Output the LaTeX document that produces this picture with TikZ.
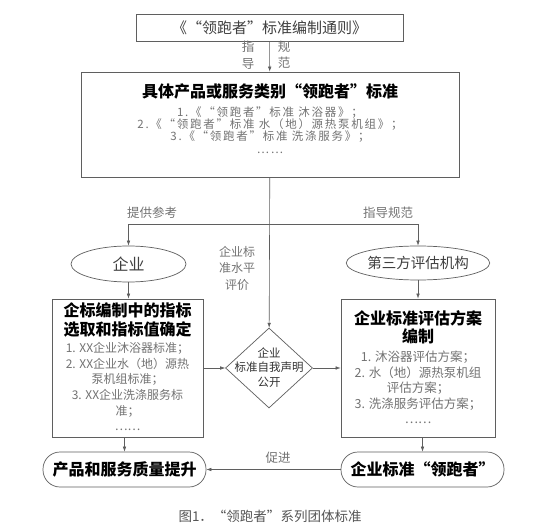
\documentclass[tikz,border=0pt]{standalone}
\usepackage{xcolor}
\usepackage{fontspec}
\setmainfont{Noto Sans CJK SC}
\usepackage{tikz}
\usetikzlibrary{positioning,arrows.meta,shapes.geometric}
\definecolor{linegray}{RGB}{95,95,95}
\definecolor{txtgray}{RGB}{115,115,115}
\definecolor{capgray}{RGB}{85,85,85}
\tikzset{
  box/.style={draw=linegray, line width=0.8pt, rectangle, inner sep=0pt},
  oval/.style={draw=linegray, line width=0.7pt, ellipse, inner sep=0pt},
  pill/.style={draw=linegray, line width=0.7pt, rectangle, rounded corners=17pt,
    inner sep=0pt, minimum width=163pt, minimum height=35pt,
    font=\fontsize{16}{16}\selectfont\bfseries},
  arr/.style={draw=linegray, line width=0.6pt, -{Latex[length=5pt,width=3.6pt]}},
  head/.style={font=\fontsize{16}{18.6}\selectfont\bfseries, align=center, inner sep=0pt},
  items/.style={text=txtgray, align=center, inner sep=0pt},
  note/.style={text=txtgray, font=\fontsize{12.5}{16.5}\selectfont, align=center, inner sep=0pt}
}

\begin{document}
\begin{tikzpicture}[x=1pt, y=-1pt]
  \useasboundingbox[fill=white] (0,0) rectangle (548,526);

  % General rule on top
  \node[box, minimum width=267pt, minimum height=27pt, text=black!75,
        font=\fontsize{15}{15}\selectfont] (tongze) at (269.5,27.5) {《“领跑者”标准编制通则》};

  % Category standards
  \node[box, minimum width=378pt, minimum height=105pt] (lei) at (270,124.5) {};
  \node[head] (leihead) at (270,91) {具体产品或服务类别“领跑者”标准};
  \node[items, font=\fontsize{11.5}{12.4}\selectfont\addfontfeature{LetterSpace=15}] (leilist) at (270,130)
    {1.《“领跑者”标准 沐浴器》；\\
     2.《“领跑者”标准 水（地）源热泵机组》；\\
     3.《“领跑者”标准 洗涤服务》；\\
     ……};
  \draw[arr] (tongze) -- (lei);
  \node[note] at (248,55) {指\\导};
  \node[note] at (284,55) {规\\范};

  % Enterprise and third party
  \node[oval, minimum width=115pt, minimum height=36pt, text=black!75,
        font=\fontsize{16}{16}\selectfont] (qiye) at (128.5,264) {企业};
  \node[oval, minimum width=131pt, minimum height=34pt, text=black!75,
        font=\fontsize{14.5}{14.5}\selectfont] (sanfang) at (418,263) {第三方评估机构};
  \coordinate (fork) at (270,224);
  \draw[arr] (fork) -| (qiye);
  \draw[arr] (fork) -| (sanfang);
  \node[note] at (152,213) {提供参考};
  \node[note] at (388,213) {指导规范};
  \node[note, font=\fontsize{12}{16.5}\selectfont] at (237,268) {企业标\\准水平\\评价};

  % Enterprise standard box
  \node[box, minimum width=151pt, minimum height=138pt] (lbox) at (127.5,368) {};
  \node[head] at (127.5,320) {企标编制中的指标\\选取和指标值确定};
  \node[items, font=\fontsize{12}{15.7}\selectfont] at (127.5,386.7)
    {1. XX企业沐浴器标准；\\
     2. XX企业水（地）源热\\
     泵机组标准；\\
     3. XX企业洗涤服务标\\
     准；\\
     ……};
  \draw[arr] (qiye) -- (qiye |- lbox.north);

  % Evaluation scheme box
  \node[box, minimum width=154pt, minimum height=138pt] (rbox) at (418,368) {};
  \node[head, font=\fontsize{16}{18.4}\selectfont\bfseries] at (418,327.5) {企业标准评估方案\\编制};
  \node[items, font=\fontsize{12.5}{15.4}\selectfont] at (418,387.5)
    {1. 沐浴器评估方案；\\
     2. 水（地）源热泵机组\\
     评估方案；\\
     3. 洗涤服务评估方案；\\
     ……};
  \draw[arr] (sanfang) -- (sanfang |- rbox.north);

  % Self declaration
  \node[diamond, draw=linegray, line width=0.7pt, inner sep=0pt,
        minimum width=87pt, minimum height=80pt] (decl) at (269,368) {};
  \node[align=center, inner sep=0pt, text=black!80,
        font=\fontsize{11.5}{14.5}\selectfont] at (269,367.5) {企业\\标准自我声明\\公开};
  \draw[arr] (lei) -- (decl);
  \draw[arr] (lbox.east |- decl) -- (decl);
  \draw[arr] (decl) -- (rbox.west |- decl);

  % Results
  \node[pill] (tisheng) at (124.5,469.5) {产品和服务质量提升};
  \node[pill] (lingpao) at (422.5,469.5) {企业标准“领跑者”};
  \draw[arr] (tisheng |- lbox.south) -- (tisheng);
  \draw[arr] (lingpao |- rbox.south) -- (lingpao);
  \draw[arr] (lingpao) -- (tisheng);
  \node[note] at (278,458) {促进};

  % Caption
  \node[text=capgray, font=\fontsize{13.5}{13.5}\selectfont] (cap) at (270,516) {图1．“领跑者”系列团体标准};
\end{tikzpicture}
\end{document}
